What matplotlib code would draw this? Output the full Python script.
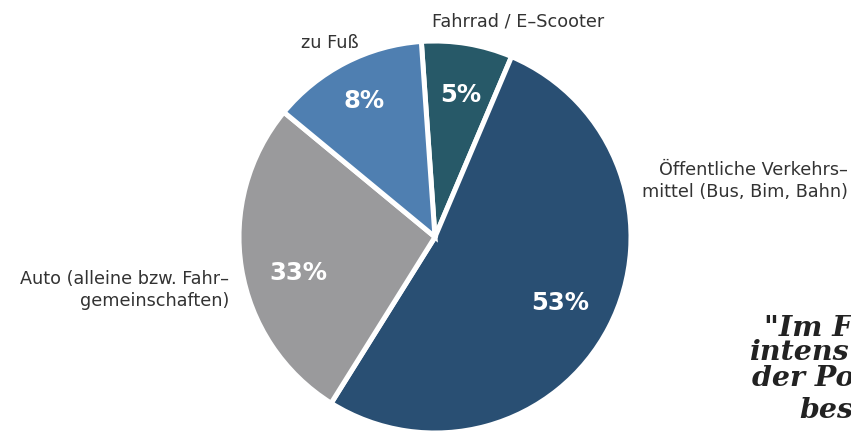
import matplotlib
matplotlib.use('Agg')
import matplotlib.pyplot as plt

# slice sizes as drawn (degrees, turned into percent)
modes = ['Fahrrad / E–Scooter', 'Öffentliche Verkehrsmittel', 'Auto', 'zu Fuß']
shares = [7.5, 52.5, 27.1, 12.9]
pct_labels = ['5%', '53%', '33%', '8%']
colors = ['#275968', '#294f73', '#9a9a9c', '#4f7fb1']

W, H = 851, 432
fig = plt.figure(figsize=(W / 100, H / 100), dpi=100)

# pie centre (435, 237) px from top-left, radius 196 px
cx, cy, r = 435, 237, 196
ax = fig.add_axes([(cx - r) / W, (H - cy - r) / H, 2 * r / W, 2 * r / H])
wedges, _ = ax.pie(shares, colors=colors, startangle=94, counterclock=False,
                   wedgeprops=dict(edgecolor='white', linewidth=3.6))
ax.set_xlim(-1, 1)
ax.set_ylim(-1, 1)
ax.set_axis_off()


def px(x, y):
    return x / W, 1 - y / H


# percentage labels inside the slices
pct_pos = [(461, 95), (560, 303), (298, 273), (364, 101)]
for lab, (x, y) in zip(pct_labels, pct_pos):
    fig.text(*px(x, y), lab, color='white', fontsize=17.5, fontweight='bold',
             family='DejaVu Sans', ha='center', va='center')

lab_kw = dict(color='#333333', fontsize=12.7, family='DejaVu Sans', linespacing=1.3)
fig.text(*px(432, 22), 'Fahrrad / E–Scooter', ha='left', va='center', **lab_kw)
fig.text(*px(359, 43), 'zu Fuß', ha='right', va='center', **lab_kw)
fig.text(*px(848, 181), 'Öffentliche Verkehrs–\nmittel (Bus, Bim, Bahn)',
         ha='right', va='center', multialignment='right', **lab_kw)
fig.text(*px(229, 290), 'Auto (alleine bzw. Fahr–\ngemeinschaften)',
         ha='right', va='center', multialignment='right', **lab_kw)

# quote that runs off the right edge in the original
quote_kw = dict(color='#222222', fontsize=20.5, family='DejaVu Serif',
                fontweight='bold', style='italic', ha='left', va='center')
fig.text(*px(764, 328), '"Im F', **quote_kw)
fig.text(*px(749, 353), 'intens', **quote_kw)
fig.text(*px(752, 378), 'der Po', **quote_kw)
fig.text(*px(799, 410), 'bes', **quote_kw)

fig.savefig('out.png', dpi=100, facecolor='white')
